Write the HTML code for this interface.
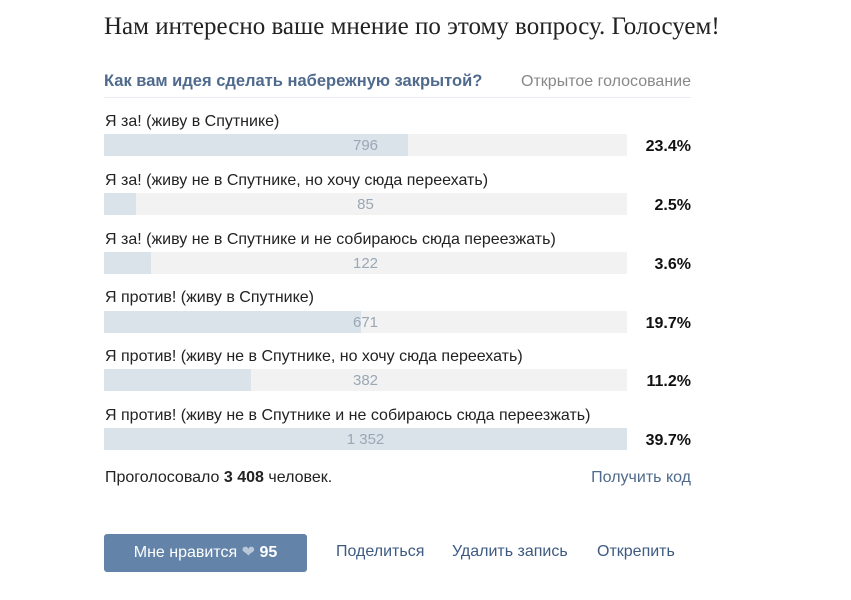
<!DOCTYPE html>
<html><head><meta charset="utf-8"><style>
body{margin:0;width:851px;height:600px;background:#fff;position:relative;overflow:hidden;font-family:"Liberation Sans","Noto Sans CJK SC",sans-serif;}
.a{position:absolute;white-space:nowrap;}
.t{font-family:"Liberation Serif","Noto Serif CJK SC",serif;font-size:25px;color:#222;left:104px;top:13px;}
.q{left:104px;top:72px;font-size:16.5px;font-weight:bold;color:#4f6a8c;}
.o{right:160px;top:73px;font-size:16px;color:#888;}
.sep{left:104px;top:97px;width:587px;height:1px;background:#e8ebef;}
.l{left:105px;font-size:16px;color:#222;}
.bar{left:104px;width:523px;height:22px;background:#f2f2f2;}
.f{position:absolute;left:0;top:0;height:22px;background:#dae2ea;}
.n{position:absolute;left:0;width:523px;text-align:center;top:3px;font-size:15px;color:#9aa7b5;}
.p{right:160px;font-size:16px;font-weight:bold;color:#111;}
.k{font-size:16px;color:#3d5a80;top:543px;}
</style></head><body>
<div class="a t">Нам интересно ваше мнение по этому вопросу. Голосуем!</div>
<div class="a q">Как вам идея сделать набережную закрытой?</div>
<div class="a o">Открытое голосование</div>
<div class="a sep"></div>

<div class="a l" style="top:113px">Я за! (живу в Спутнике)</div>
<div class="a bar" style="top:134px"><div class="f" style="width:304px"></div><div class="n">796</div></div>
<div class="a p" style="top:138px">23.4%</div>

<div class="a l" style="top:172px">Я за! (живу не в Спутнике, но хочу сюда переехать)</div>
<div class="a bar" style="top:193px"><div class="f" style="width:32px"></div><div class="n">85</div></div>
<div class="a p" style="top:197px">2.5%</div>

<div class="a l" style="top:231px">Я за! (живу не в Спутнике и не собираюсь сюда переезжать)</div>
<div class="a bar" style="top:252px"><div class="f" style="width:47px"></div><div class="n">122</div></div>
<div class="a p" style="top:256px">3.6%</div>

<div class="a l" style="top:289px">Я против! (живу в Спутнике)</div>
<div class="a bar" style="top:311px"><div class="f" style="width:257px"></div><div class="n">671</div></div>
<div class="a p" style="top:315px">19.7%</div>

<div class="a l" style="top:348px">Я против! (живу не в Спутнике, но хочу сюда переехать)</div>
<div class="a bar" style="top:369px"><div class="f" style="width:147px"></div><div class="n">382</div></div>
<div class="a p" style="top:373px">11.2%</div>

<div class="a l" style="top:407px">Я против! (живу не в Спутнике и не собираюсь сюда переезжать)</div>
<div class="a bar" style="top:428px"><div class="f" style="width:523px"></div><div class="n">1 352</div></div>
<div class="a p" style="top:432px">39.7%</div>

<div class="a l" style="top:469px">Проголосовало <b>3 408</b> человек.</div>
<div class="a" style="right:160px;top:469px;font-size:16px;color:#4f6a8c">Получить код</div>

<div class="a" style="left:104px;top:534px;width:203px;height:38px;background:#6383a8;border-radius:3px;color:#fff;font-size:16px;line-height:38px;text-align:center">Мне нравится <span style="color:#b9c8d9">❤</span> <b>95</b></div>
<div class="a k" style="left:336px">Поделиться</div>
<div class="a k" style="left:452px">Удалить запись</div>
<div class="a k" style="left:597px">Открепить</div>
</body></html>
